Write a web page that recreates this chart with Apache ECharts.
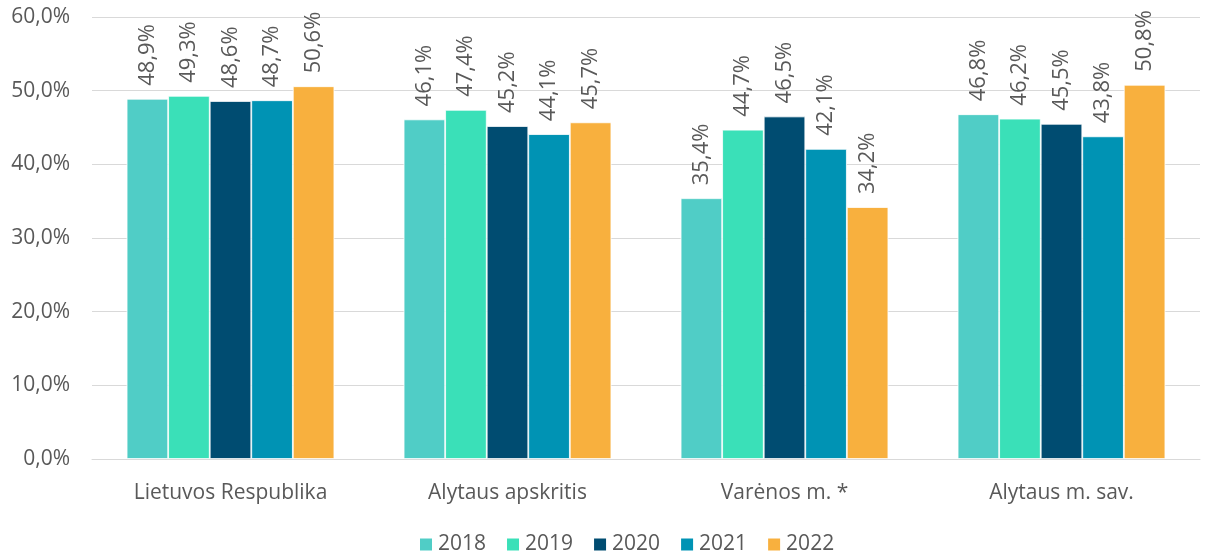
<!DOCTYPE html>
<html>
<head>
<meta charset="utf-8">
<script src="https://cdn.jsdelivr.net/npm/echarts@6/dist/echarts.min.js"></script>
<style>
  html, body { margin: 0; padding: 0; background: #fff; }
  #chart { width: 1211px; height: 557px; }
</style>
</head>
<body>
<div id="chart"></div>
<script>
// kategorijos ir reikšmės (%)
var categories = ["Lietuvos Respublika", "Alytaus apskritis", "Varėnos m. *", "Alytaus m. sav."];
var years = ["2018", "2019", "2020", "2021", "2022"];
var v2018 = [48.9, 46.1, 35.4, 46.8];
var v2019 = [49.3, 47.4, 44.7, 46.2];
var v2020 = [48.6, 45.2, 46.5, 45.5];
var v2021 = [48.7, 44.1, 42.1, 43.8];
var v2022 = [50.6, 45.7, 34.2, 50.8];
var colors = ["#50CDC6", "#3AE0B8", "#004C71", "#0093B4", "#F8B03E"];

var fontFam = "'Open Sans', 'Noto Sans', sans-serif";
var txt = "#595959";

function fmt(v) {
  return v.toFixed(1).replace(".", ",") + "%";
}

var values = [v2018, v2019, v2020, v2021, v2022];
var series = years.map(function (y, i) {
  return {
    name: y,
    type: "bar",
    data: values[i],
    barGap: "0%",
    barCategoryGap: "25%",
    itemStyle: { color: colors[i], borderColor: "#fff", borderWidth: 0.8 },
    label: {
      show: true,
      position: "top",
      rotate: 90,
      align: "left",
      verticalAlign: "middle",
      distance: 13,
      color: txt,
      fontSize: 22,
      fontFamily: fontFam,
      formatter: function (p) { return fmt(p.value); }
    }
  };
});

var chart = echarts.init(document.getElementById("chart"));
chart.setOption({
  animation: false,
  color: colors,
  grid: { left: 92, right: 11, top: 17, bottom: 98 },
  legend: {
    bottom: -3,
    left: 413,
    itemWidth: 14,
    itemHeight: 14,
    itemGap: 19,
    icon: "rect",
    textStyle: { color: txt, fontSize: 21, fontFamily: fontFam },
    data: years
  },
  xAxis: {
    type: "category",
    data: categories,
    axisLine: { lineStyle: { color: "#d9d9d9", width: 1 } },
    axisTick: { show: false },
    axisLabel: { color: txt, fontSize: 21, fontFamily: fontFam, margin: 24 }
  },
  yAxis: {
    type: "value",
    min: 0,
    max: 60,
    interval: 10,
    axisLine: { show: false },
    axisTick: { show: false },
    splitLine: { lineStyle: { color: "#d9d9d9", width: 1 } },
    axisLabel: {
      color: txt, fontSize: 21, fontFamily: fontFam, margin: 22,
      formatter: function (v) { return fmt(v); }
    }
  },
  series: series
});
</script>
</body>
</html>
